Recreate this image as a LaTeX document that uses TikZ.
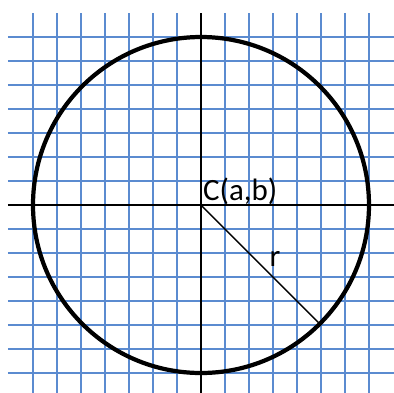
\documentclass[tikz,border=0pt]{standalone}
\usepackage{fontspec}
\setmainfont{Carlito}
\usepackage{tikz}
\usetikzlibrary{positioning}
\definecolor{gridblue}{HTML}{5B8BD0}

\begin{document}
\begin{tikzpicture}[x=0.6cm,y=0.6cm,gridline/.style={gridblue,line width=0.75pt},axis/.style={black,line width=1pt},lbl/.style={inner sep=0pt,font=\fontsize{22}{26}\selectfont}]
        \useasboundingbox (-8.375,-7.833) rectangle (8.042,8.542);
        \foreach \i in {-7,...,-1,1,2,...,7} {
          \draw[gridline] (\i,-7.833) -- (\i,8.0);
          \draw[gridline] (-8.042,\i) -- (8.042,\i);
        }
        \coordinate (c) at (0,0);
        \coordinate (e) at (-45:7);
        \draw[axis] (0,8.0) -- (0,-7.833);
        \draw[axis] (-8.042,0) -- (8.042,0);
        \draw[black,line width=3pt] (c) circle[radius=7];
        \draw[black,line width=1pt] (c) -- (e);
        \node[lbl,anchor=base west] (ctr) at (0.08,0.2) {C(a,b)};
        \node[lbl,anchor=base west] (rad) at (2.85,-2.55) {r};
      \end{tikzpicture}
\end{document}
